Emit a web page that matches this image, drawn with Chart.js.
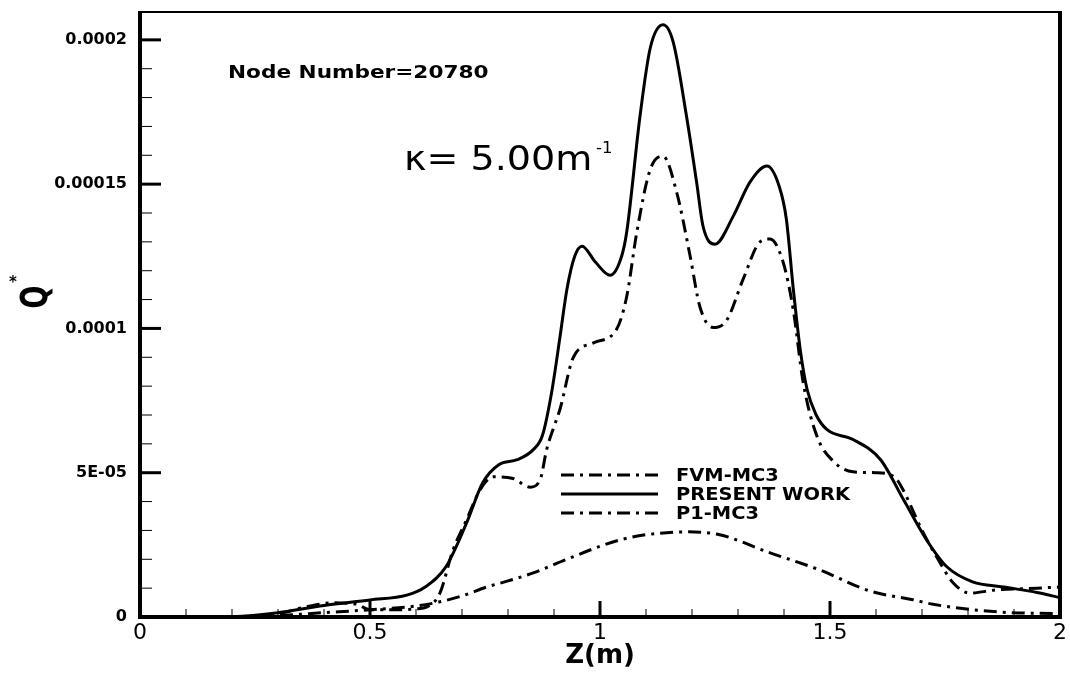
<!DOCTYPE html>
<html>
<head>
<meta charset="utf-8">
<script src="https://cdn.jsdelivr.net/npm/chart.js"></script>
<style>
      html, body { margin: 0; padding: 0; background: #fff; }
      #wrap { width: 1070px; height: 674px; }
</style>
</head>
<body>
<div id="wrap"><canvas id="myChart"></canvas></div>
<script>
/* значения */
const presentZ = [0, 0.15, 0.2, 0.3, 0.4, 0.5, 0.58, 0.62, 0.665, 0.71, 0.745, 0.78, 0.82, 0.855, 0.875, 0.895, 0.913, 0.928, 0.945, 0.961, 0.99, 1.022, 1.047, 1.058, 1.087, 1.109, 1.137, 1.159, 1.188, 1.21, 1.224, 1.25, 1.29, 1.326, 1.363, 1.39, 1.405, 1.42, 1.435, 1.45, 1.47, 1.493, 1.55, 1.61, 1.66, 1.71, 1.754, 1.81, 1.877, 1.95, 2.0];
const presentQ = [0, 0, 1e-7, 1.5e-6, 4.0e-6, 5.9e-6, 7.6e-6, 1.04e-5, 1.74e-5, 3.26e-5, 4.65e-5, 5.28e-5, 5.45e-5, 5.8e-5, 6.3e-5, 7.8e-5, 9.7e-5, 1.135e-4, 1.25e-4, 1.285e-4, 1.23e-4, 1.184e-4, 1.25e-4, 1.333e-4, 1.736e-4, 1.97e-4, 2.052e-4, 1.993e-4, 1.736e-4, 1.507e-4, 1.354e-4, 1.292e-4, 1.39e-4, 1.507e-4, 1.5625e-4, 1.49e-4, 1.38e-4, 1.14e-4, 9.3e-5, 7.9e-5, 7.0e-5, 6.5e-5, 6.15e-5, 5.45e-5, 4.06e-5, 2.67e-5, 1.74e-5, 1.22e-5, 1.04e-5, 8.5e-6, 6.7e-6];

const fvmZ = [0, 0.25, 0.3, 0.36, 0.42, 0.47, 0.5, 0.55, 0.6, 0.624, 0.652, 0.68, 0.71, 0.739, 0.768, 0.811, 0.848, 0.87, 0.884, 0.9, 0.913, 0.942, 0.986, 1.036, 1.058, 1.08, 1.109, 1.137, 1.167, 1.196, 1.217, 1.246, 1.276, 1.311, 1.348, 1.37, 1.398, 1.42, 1.442, 1.472, 1.507, 1.55, 1.6, 1.64, 1.659, 1.7, 1.732, 1.768, 1.804, 1.862, 1.95, 2.0];
const fvmQ = [0, 0, 1e-6, 3.5e-6, 4.9e-6, 4.5e-6, 2.5e-6, 2.5e-6, 2.8e-6, 3.5e-6, 8.3e-6, 2.3e-5, 3.37e-5, 4.4e-5, 4.86e-5, 4.8e-5, 4.5e-5, 4.76e-5, 5.8e-5, 6.6e-5, 7.2e-5, 9.0e-5, 9.5e-5, 9.97e-5, 1.11e-4, 1.333e-4, 1.55e-4, 1.597e-4, 1.47e-4, 1.25e-4, 1.076e-4, 1.003e-4, 1.03e-4, 1.17e-4, 1.3e-4, 1.31e-4, 1.23e-4, 1.066e-4, 8.1e-5, 6.25e-5, 5.4e-5, 5.03e-5, 5.0e-5, 4.85e-5, 4.4e-5, 3.0e-5, 2.08e-5, 1.18e-5, 8.3e-6, 9.4e-6, 1.0e-5, 1.04e-5];

const p1Z = [0, 0.2, 0.3, 0.4, 0.5, 0.6, 0.65, 0.7, 0.754, 0.8, 0.855, 0.928, 1.0, 1.05, 1.1, 1.19, 1.26, 1.37, 1.43, 1.478, 1.587, 1.68, 1.724, 1.87, 2.0];
const p1Q = [0, 0, 5e-7, 1.5e-6, 2.5e-6, 3.8e-6, 5.2e-6, 7.3e-6, 1.04e-5, 1.25e-5, 1.53e-5, 2.0e-5, 2.45e-5, 2.7e-5, 2.85e-5, 2.95e-5, 2.85e-5, 2.22e-5, 1.9e-5, 1.63e-5, 9e-6, 6.0e-6, 4.4e-6, 1.7e-6, 1.2e-6];

const xTicks = [0, 0.5, 1, 1.5, 2];
const xTickLabels = ['0', '0.5', '1', '1.5', '2'];
const yTicks = [0, 5e-5, 1e-4, 1.5e-4, 2e-4];
const yTickLabels = ['0', '5E-05', '0.0001', '0.00015', '0.0002'];
const legendLabels = ['FVM-MC3', 'PRESENT WORK', 'P1-MC3'];

const dashDot = [13, 6, 3, 6];

function toPoints(xs, ys) {
      return xs.map((v, i) => ({ x: v, y: ys[i] }));
}

/* текст с растяжкой по горизонтали */
function stretchText(ctx, str, x, y, font, sx, baseline) {
      ctx.save();
      ctx.translate(x, y);
      ctx.scale(sx, 1);
      ctx.font = font;
      ctx.textAlign = 'left';
      ctx.textBaseline = baseline || 'alphabetic';
      ctx.fillText(str, 0, 0);
      ctx.restore();
}

function seg(ctx, x1, y1, x2, y2) {
      ctx.beginPath();
      ctx.moveTo(x1, y1);
      ctx.lineTo(x2, y2);
      ctx.stroke();
}

/* рамка, внутренние засечки, легенда и подписи */
const decor = {
      id: 'decor',
      afterDraw(chart) {
            const { ctx, chartArea: a, scales: { x, y } } = chart;
            ctx.save();
            ctx.strokeStyle = '#000';
            ctx.fillStyle = '#000';

            ctx.lineWidth = 1;
            for (let i = 1; i < 20; i++) {
                  const px = x.getPixelForValue(i / 10);
                  seg(ctx, px, a.bottom, px, a.bottom - 8);
            }
            for (let i = 1; i <= 20; i++) {
                  const py = y.getPixelForValue(i * 1e-5);
                  seg(ctx, a.left, py, a.left + 12, py);
            }
            ctx.lineWidth = 3;
            xTicks.forEach(v => {
                  const px = x.getPixelForValue(v);
                  seg(ctx, px, a.bottom, px, a.bottom - 16);
            });
            yTicks.forEach(v => {
                  const py = y.getPixelForValue(v);
                  seg(ctx, a.left, py, a.left + 21, py);
            });

            ctx.lineWidth = 2;
            seg(ctx, a.left, a.top + 1, a.right, a.top + 1);
            ctx.lineWidth = 4;
            seg(ctx, a.left, a.top, a.left, a.bottom + 2);
            seg(ctx, a.left - 2, a.bottom, a.right + 2, a.bottom);
            seg(ctx, a.right, a.top, a.right, a.bottom + 2);

            // легенда
            const rows = [475, 494, 513];
            const dashes = [dashDot, [], dashDot];
            ctx.lineWidth = 3;
            rows.forEach((ry, i) => {
                  ctx.setLineDash(dashes[i]);
                  seg(ctx, 561, ry, 658, ry);
                  ctx.setLineDash([]);
                  stretchText(ctx, legendLabels[i], 676, ry + 1, 'bold 18px "DejaVu Sans"', 1.08, 'middle');
            });

            stretchText(ctx, 'Node Number=20780', 228, 78, 'bold 18px "DejaVu Sans"', 1.2);
            stretchText(ctx, 'κ= 5.00m', 404, 170, '34px "DejaVu Sans"', 1.12);
            stretchText(ctx, '-1', 596, 153, '15px "DejaVu Sans"', 1.1);

            // Q* по вертикали
            ctx.save();
            ctx.translate(37, 297);
            ctx.scale(1.4, 1);
            ctx.rotate(-Math.PI / 2);
            ctx.font = 'bold 27px "DejaVu Sans"';
            ctx.textAlign = 'center';
            ctx.textBaseline = 'middle';
            ctx.fillText('Q', 0, 0);
            ctx.restore();
            ctx.font = 'bold 15px "DejaVu Sans"';
            ctx.textAlign = 'center';
            ctx.textBaseline = 'middle';
            ctx.fillText('*', 13, 283);

            ctx.restore();
      }
};

const canvaNode = document.getElementById('myChart');

const chart = new Chart(canvaNode, {
      type: 'line',
      data: {
            datasets: [{
                  label: legendLabels[0],
                  data: toPoints(fvmZ, fvmQ),
                  borderColor: '#000',
                  borderWidth: 3,
                  borderDash: dashDot,
                  cubicInterpolationMode: 'monotone',
                  fill: false
            }, {
                  label: legendLabels[1],
                  data: toPoints(presentZ, presentQ),
                  borderColor: '#000',
                  borderWidth: 3,
                  cubicInterpolationMode: 'monotone',
                  fill: false
            }, {
                  label: legendLabels[2],
                  data: toPoints(p1Z, p1Q),
                  borderColor: '#000',
                  borderWidth: 3,
                  borderDash: dashDot,
                  cubicInterpolationMode: 'monotone',
                  fill: false
            }]
      },
      options: {
            responsive: true,
            maintainAspectRatio: false,
            animation: false,
            layout: { padding: { top: 11, right: 10, left: 0, bottom: 0 } },
            elements: { point: { radius: 0 } },
            plugins: {
                  legend: { display: false },
                  tooltip: { enabled: false }
            },
            scales: {
                  x: {
                        type: 'linear',
                        min: 0,
                        max: 2,
                        afterBuildTicks: s => { s.ticks = xTicks.map(v => ({ value: v })); },
                        afterFit: s => { s.height = 57; s.paddingLeft = 0; s.paddingRight = 0; },
                        grid: { display: false, drawTicks: false },
                        border: { display: false },
                        ticks: {
                              callback: (v, i) => xTickLabels[i],
                              color: '#000',
                              font: { family: 'DejaVu Sans', size: 22 },
                              padding: 3,
                              maxRotation: 0,
                              autoSkip: false
                        },
                        title: {
                              display: true,
                              text: 'Z(m)',
                              color: '#000',
                              font: { family: 'DejaVu Sans', size: 26, weight: 'bold' },
                              padding: { top: 0, bottom: 2 }
                        }
                  },
                  y: {
                        type: 'linear',
                        min: 0,
                        max: 0.00021,
                        afterBuildTicks: s => { s.ticks = yTicks.map(v => ({ value: v })); },
                        afterFit: s => { s.width = 140; s.paddingTop = 0; s.paddingBottom = 0; },
                        grid: { display: false, drawTicks: false },
                        border: { display: false },
                        ticks: {
                              callback: (v, i) => yTickLabels[i],
                              color: '#000',
                              font: { family: 'DejaVu Sans', size: 16, weight: 'bold' },
                              padding: 13
                        }
                  }
            }
      },
      plugins: [decor]
});
</script>
</body>
</html>
